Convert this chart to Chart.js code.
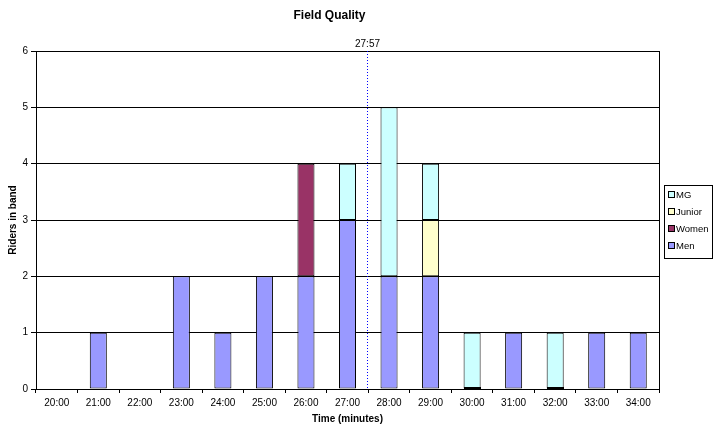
<!DOCTYPE html>
<html><head><meta charset="utf-8">
<script src="https://cdn.jsdelivr.net/npm/chart.js@4.4.1/dist/chart.umd.min.js"></script>
<style>html,body{margin:0;padding:0;background:#fff}#wrap{width:714px;height:428px}</style>
</head><body><div id="wrap"><canvas id="c" width="714" height="428"></canvas></div>
<script>
const categories = ['20:00','21:00','22:00','23:00','24:00','25:00','26:00','27:00','28:00','29:00','30:00','31:00','32:00','33:00','34:00'];
const men    = [null,1,null,2,1,2,2,3,2,2,0,1,0,1,1];
const women  = [null,null,null,null,null,null,2,null,null,null,null,null,null,null,null];
const junior = [null,null,null,null,null,null,null,null,null,1,null,null,null,null,null];
const mg     = [null,null,null,null,null,null,null,1,3,1,1,null,1,null,null];
const yTicks = [0,1,2,3,4,5,6];
const markerLabel = '27:57';
const markerAfter = '27:00';

const FONT = "'Liberation Sans', Arial, sans-serif";

const frame = {
  id: 'frame',
  afterDatasetsDraw(chart) {
    const {ctx, chartArea: a, scales} = chart;
    ctx.save();
    ctx.strokeStyle = '#000'; ctx.lineWidth = 1;
    ctx.beginPath();
    ctx.moveTo(Math.round(a.right) + 0.5, a.top);
    ctx.lineTo(Math.round(a.right) + 0.5, a.bottom);
    ctx.stroke();
    // zero-height bars drawn as a dark baseline segment
    chart.data.datasets.forEach((d, di) => {
      const meta = chart.getDatasetMeta(di);
      d.data.forEach((v, i) => {
        if (v === 0) {
          const el = meta.data[i];
          ctx.fillStyle = '#000';
          ctx.fillRect(Math.round(el.x - el.width / 2), Math.round(el.y) - 2, Math.round(el.width), 2);
        }
      });
    });
    // marker line
    const idx = categories.indexOf(markerAfter) + 0.5;
    const x = Math.round(scales.x.getPixelForValue(idx)) - 0.5;
    ctx.strokeStyle = '#0000ff';
    ctx.setLineDash([1, 2]);
    ctx.beginPath();
    ctx.moveTo(x, a.top);
    ctx.lineTo(x, a.bottom);
    ctx.stroke();
    ctx.setLineDash([]);
    ctx.fillStyle = '#000';
    ctx.font = '10px ' + FONT;
    ctx.textAlign = 'center';
    ctx.textBaseline = 'middle';
    ctx.fillText(markerLabel, x, a.top - 7);
    // legend
    const items = chart.data.datasets.slice().reverse();
    const bw = 48, bh = 73;
    const bx = chart.width - 2 - bw;
    const by = Math.round((a.top + a.bottom) / 2 - bh / 2) + 1;
    ctx.strokeStyle = '#000';
    ctx.strokeRect(bx + 0.5, by + 0.5, bw, bh);
    ctx.textAlign = 'left';
    ctx.font = '9.5px ' + FONT;
    items.forEach((d, i) => {
      const cy = by + 10 + i * 17;
      ctx.fillStyle = d.backgroundColor;
      ctx.fillRect(bx + 4.5, cy - 3.5, 6, 6);
      ctx.strokeRect(bx + 4.5, cy - 3.5, 6, 6);
      ctx.fillStyle = '#000';
      ctx.fillText(d.label, bx + 12, cy);
    });
    ctx.restore();
  }
};

function ds(label, data, color) {
  return {label, data, backgroundColor: color, borderColor: '#000', borderWidth: 1,
    borderSkipped: false, categoryPercentage: 1, barPercentage: 0.41};
}

new Chart(document.getElementById('c'), {
  type: 'bar',
  data: {
    labels: categories,
    datasets: [
      ds('Men', men, '#9999ff'),
      ds('Women', women, '#993366'),
      ds('Junior', junior, '#ffffcc'),
      ds('MG', mg, '#ccffff')
    ]
  },
  options: {
    responsive: false,
    animation: false,
    devicePixelRatio: 1,
    layout: {padding: {left: 0, right: 55, top: 0, bottom: 0}},
    plugins: {
      legend: {display: false},
      tooltip: {enabled: false},
      title: {display: true, text: 'Field Quality', color: '#000',
        font: {family: FONT, size: 12, weight: 'bold', lineHeight: 1.2},
        padding: {top: 8, bottom: 28.6}}
    },
    scales: {
      x: {
        stacked: true,
        offset: true,
        grid: {display: true, drawOnChartArea: false, drawTicks: true, tickLength: 4, color: '#000', offset: true},
        border: {display: true, color: '#000', width: 1},
        ticks: {color: '#000', font: {family: FONT, size: 10}, padding: 4, maxRotation: 0, autoSkip: false},
        title: {display: true, text: 'Time (minutes)', color: '#000',
          font: {family: FONT, size: 10, weight: 'bold', lineHeight: 1.2}, padding: {top: 2, bottom: 3}},
        afterFit(s) { s.height = 39; }
      },
      y: {
        stacked: true,
        min: 0, max: 6,
        afterBuildTicks(s) { s.ticks = yTicks.map(v => ({value: v})); },
        grid: {color: '#000', lineWidth: 1, tickLength: 5, drawTicks: true},
        border: {display: true, color: '#000', width: 1},
        ticks: {color: '#000', font: {family: FONT, size: 10}, padding: 3},
        title: {display: true, text: 'Riders in band', color: '#000',
          font: {family: FONT, size: 10, weight: 'bold', lineHeight: 1.2}, padding: {top: 7, bottom: 0}},
        afterFit(s) { s.width = 36; }
      }
    }
  },
  plugins: [frame]
});
</script></body></html>
